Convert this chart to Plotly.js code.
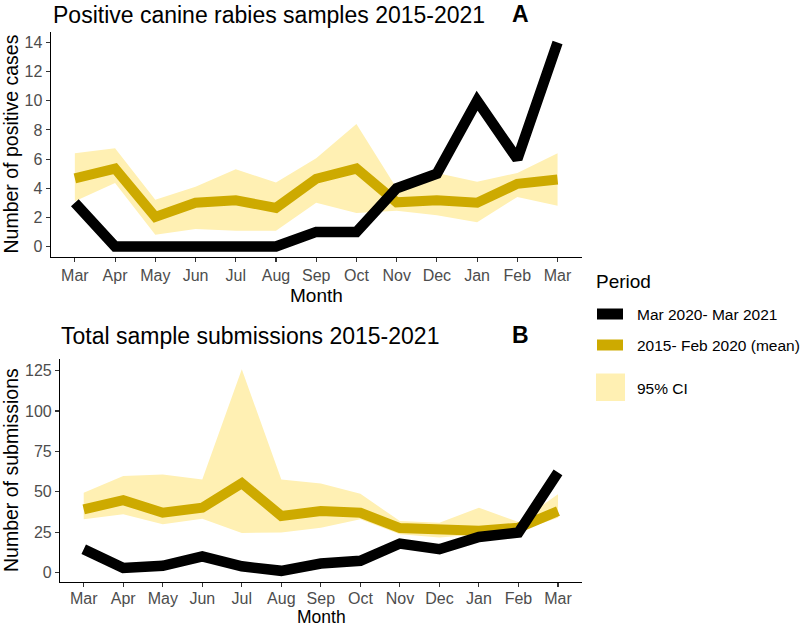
<!DOCTYPE html>
<html>
<head>
<meta charset="utf-8">
<script src="https://cdn.plot.ly/plotly-3.0.1.min.js"></script>
<style>html,body{margin:0;padding:0;background:#fff}#chart{width:800px;height:628px}</style>
</head>
<body>
<div id="chart"></div>
<script>
// ---- data ----
const months = ["Mar","Apr","May","Jun","Jul","Aug","Sep","Oct","Nov","Dec","Jan","Feb","Mar"];
const posCurrent = [3,0,0,0,0,0,1,1,4,5,10,6,14];
const posMean    = [4.67,5.35,2.03,3.0,3.17,2.65,4.65,5.35,3.03,3.17,3.0,4.3,4.6];
const posUpper   = [6.4,6.75,3.2,4.1,5.3,4.4,6.05,8.4,4.0,5.05,4.45,5.05,6.4];
const posLower   = [3.1,4.35,0.8,1.2,1.08,1.08,3.0,2.3,2.45,2.15,1.67,3.4,2.8];
const subCurrent = [14.4,2.8,4.1,10,3.8,1,5.5,7.2,17.9,14.4,22,24.7,62];
const subMean    = [39,44.8,37,40.1,55.3,35,38,37,27.5,26.7,25.8,27.7,38];
const subUpper   = [49.3,59.8,60.6,57.5,125.8,57.5,55.1,48.7,31.8,30.8,40.1,31.2,48.5];
const subLower   = [32.9,36,29.8,33.3,24.5,24.7,27.7,32.9,23.6,21.6,23.6,25.7,33.9];
const posTicks = [0,2,4,6,8,10,12,14];
const subTicks = [0,25,50,75,100,125];
const legendTitle = "Period";
const legendLabels = ["Mar 2020- Mar 2021","2015- Feb 2020 (mean)","95% CI"];

// ---- style ----
const W = 800, H = 628;
const FONT = "Liberation Sans, Arial, sans-serif";
const BLACK = "#000000", GOLD = "#CDAA00", CI = "#FFF0B3";
const idx = months.map((m,i)=>i+1);
const px = v => v / W;
const py = v => 1 - v / H;

function panel(xa, ya, lower, upper, mean, current){
  return [
    {x: idx, y: lower, xaxis: xa, yaxis: ya, mode: "lines", line: {width: 0, color: CI}, hoverinfo: "skip", showlegend: false},
    {x: idx, y: upper, xaxis: xa, yaxis: ya, mode: "lines", line: {width: 0, color: CI}, fill: "tonexty", fillcolor: CI, hoverinfo: "skip", showlegend: false},
    {x: idx, y: mean, xaxis: xa, yaxis: ya, mode: "lines", line: {width: 10, color: GOLD}, showlegend: false},
    {x: idx, y: current, xaxis: xa, yaxis: ya, mode: "lines", line: {width: 10.5, color: BLACK}, showlegend: false}
  ];
}

const data = [].concat(
  panel("x", "y", posLower, posUpper, posMean, posCurrent),
  panel("x2", "y2", subLower, subUpper, subMean, subCurrent)
);

const xCommon = {
  tickmode: "array", tickvals: idx, ticktext: months,
  showline: true, linecolor: "#000", linewidth: 1.1,
  ticks: "outside", ticklen: 4, tickcolor: "#333", tickwidth: 1.1,
  showgrid: false, zeroline: false, fixedrange: true,
  tickfont: {family: FONT, size: 16, color: "#4D4D4D"},
  range: [0.4, 13.6]
};
const yCommon = {
  showline: true, linecolor: "#000", linewidth: 1.1,
  ticks: "outside", ticklen: 4, tickcolor: "#333", tickwidth: 1.1,
  showgrid: false, zeroline: false, fixedrange: true,
  tickfont: {family: FONT, size: 16, color: "#4D4D4D"},
  tickmode: "array"
};

const layout = {
  width: W, height: H,
  margin: {l: 0, r: 0, t: 0, b: 0},
  paper_bgcolor: "#fff", plot_bgcolor: "#fff",
  showlegend: false,
  xaxis: Object.assign({}, xCommon, {domain: [px(50.7), px(581.7)], anchor: "y"}),
  yaxis: Object.assign({}, yCommon, {domain: [py(256.7), py(32.3)], anchor: "x", range: [-0.7, 14.7], tickvals: posTicks}),
  xaxis2: Object.assign({}, xCommon, {domain: [px(60), px(581.7)], anchor: "y2", ticklabelstandoff: -2}),
  yaxis2: Object.assign({}, yCommon, {domain: [py(581.5), py(359)], anchor: "x2", range: [-5.6, 132.2], tickvals: subTicks}),
  shapes: [
    {type: "rect", xref: "paper", yref: "paper", x0: px(597), x1: px(623), y0: py(319.5), y1: py(308.5), fillcolor: BLACK, line: {width: 0}},
    {type: "rect", xref: "paper", yref: "paper", x0: px(597), x1: px(623), y0: py(350.5), y1: py(339.5), fillcolor: GOLD, line: {width: 0}},
    {type: "rect", xref: "paper", yref: "paper", x0: px(596), x1: px(625), y0: py(401), y1: py(373.5), fillcolor: CI, line: {width: 0}}
  ],
  annotations: [
    {text: "Positive canine rabies samples 2015-2021", xref: "paper", yref: "paper", x: px(51), y: py(15), xanchor: "left", yanchor: "middle", showarrow: false, font: {family: FONT, size: 23, color: "#000"}},
    {text: "<b>A</b>", xref: "paper", yref: "paper", x: px(520), y: py(14), xanchor: "center", yanchor: "middle", showarrow: false, font: {family: FONT, size: 23, color: "#000"}},
    {text: "Total sample submissions 2015-2021", xref: "paper", yref: "paper", x: px(59), y: py(336), xanchor: "left", yanchor: "middle", showarrow: false, font: {family: FONT, size: 23, color: "#000"}},
    {text: "<b>B</b>", xref: "paper", yref: "paper", x: px(520), y: py(335), xanchor: "center", yanchor: "middle", showarrow: false, font: {family: FONT, size: 23, color: "#000"}},
    {text: "Number of positive cases", xref: "paper", yref: "paper", x: px(11), y: py(144.5), xanchor: "center", yanchor: "middle", textangle: -90, showarrow: false, font: {family: FONT, size: 19.5, color: "#000"}},
    {text: "Number of submissions", xref: "paper", yref: "paper", x: px(11), y: py(470), xanchor: "center", yanchor: "middle", textangle: -90, showarrow: false, font: {family: FONT, size: 19.5, color: "#000"}},
    {text: "Month", xref: "paper", yref: "paper", x: px(316), y: py(295.5), xanchor: "center", yanchor: "middle", showarrow: false, font: {family: FONT, size: 19, color: "#000"}},
    {text: "Month", xref: "paper", yref: "paper", x: px(321), y: py(616.5), xanchor: "center", yanchor: "middle", showarrow: false, font: {family: FONT, size: 17.5, color: "#000"}},
    {text: legendTitle, xref: "paper", yref: "paper", x: px(594), y: py(281), xanchor: "left", yanchor: "middle", showarrow: false, font: {family: FONT, size: 19, color: "#000"}},
    {text: legendLabels[0], xref: "paper", yref: "paper", x: px(635), y: py(314.5), xanchor: "left", yanchor: "middle", showarrow: false, font: {family: FONT, size: 15.5, color: "#000"}},
    {text: legendLabels[1], xref: "paper", yref: "paper", x: px(635), y: py(345.5), xanchor: "left", yanchor: "middle", showarrow: false, font: {family: FONT, size: 15.5, color: "#000"}},
    {text: legendLabels[2], xref: "paper", yref: "paper", x: px(635), y: py(388.5), xanchor: "left", yanchor: "middle", showarrow: false, font: {family: FONT, size: 15.5, color: "#000"}}
  ]
};

Plotly.newPlot("chart", data, layout, {displayModeBar: false, staticPlot: true});
</script>
</body>
</html>
